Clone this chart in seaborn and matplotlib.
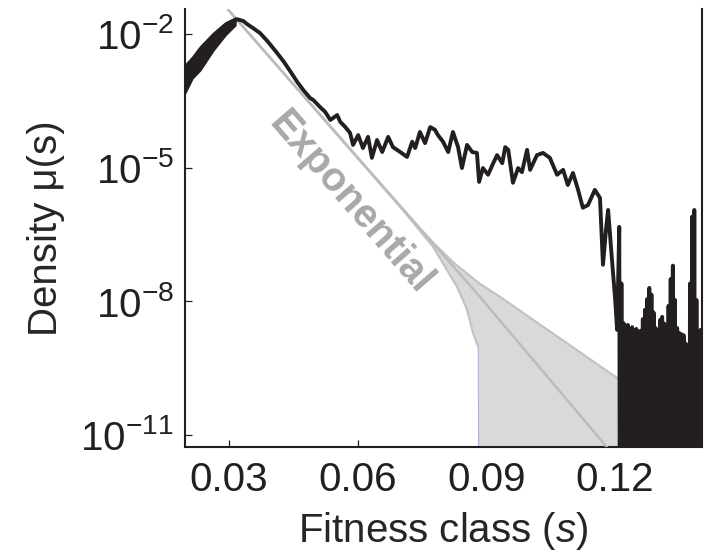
import numpy as np
import pandas as pd
import matplotlib
matplotlib.use("Agg")
import matplotlib.pyplot as plt
import seaborn as sns
from matplotlib.ticker import NullLocator, FixedLocator

# ---------------- data (fitness class s, log10 density) ----------------
# noisy leading band of the simulated density (upper / lower envelope)
band_s = [0.0197, 0.0214, 0.0232, 0.0263, 0.0291, 0.0314]
band_hi = [-2.70, -2.52, -2.29, -1.98, -1.75, -1.64]
band_lo = [-3.32, -2.99, -2.81, -2.36, -2.02, -1.80]

# main simulated density curve
curve_s = [0.0314, 0.0319, 0.0333, 0.0342, 0.0356, 0.0372, 0.0391, 0.0412,
           0.0428, 0.0442, 0.0459, 0.0473, 0.0489, 0.0496, 0.0512, 0.0524,
           0.0536, 0.0552, 0.0559, 0.0571, 0.0582, 0.0589, 0.0601, 0.0612,
           0.0624, 0.0633, 0.0645, 0.0657, 0.0671, 0.0682, 0.0699, 0.0715,
           0.0727, 0.0734, 0.0745, 0.0757, 0.0769, 0.0780, 0.0787, 0.0799,
           0.0811, 0.0822, 0.0834, 0.0843, 0.0855, 0.0867, 0.0878, 0.0883,
           0.0892, 0.0904, 0.0916, 0.0925, 0.0937, 0.0944, 0.0951, 0.0962,
           0.0974, 0.0983, 0.0995, 0.1002, 0.1018, 0.1032, 0.1048, 0.1065,
           0.1079, 0.1090, 0.1102, 0.1114, 0.1125, 0.1137, 0.1153, 0.1165,
           0.1172, 0.1179, 0.1184, 0.1193, 0.1200, 0.1205]
curve_log = [-1.70, -1.67, -1.71, -1.78, -1.87, -1.98, -2.18, -2.43,
             -2.63, -2.83, -3.08, -3.26, -3.44, -3.48, -3.64, -3.75,
             -3.93, -3.82, -3.97, -4.09, -4.22, -4.49, -4.27, -4.56,
             -4.31, -4.78, -4.38, -4.65, -4.31, -4.54, -4.65, -4.76,
             -4.42, -4.56, -4.20, -4.45, -4.09, -4.15, -4.27, -4.42,
             -4.65, -4.20, -4.54, -5.01, -4.49, -4.65, -4.67, -5.32,
             -5.01, -5.16, -4.90, -4.72, -4.90, -4.54, -4.60, -5.34,
             -5.01, -5.10, -4.60, -5.05, -4.72, -4.67, -4.78, -5.16,
             -5.05, -5.39, -5.12, -5.50, -5.90, -5.84, -5.50, -5.68,
             -7.18, -6.40, -5.95, -7.07, -7.90, -8.64]

# sparse tail: occupied bins (log10 density) every 0.0005, empty bins between
tail_log = [-6.33, -7.60, -8.49, -8.55, -8.53, -8.62, -8.58, -8.65, -8.62,
            -8.70, -8.66, -8.40, -8.19, -7.95, -7.70, -7.85, -8.25, -8.60,
            -8.87, -8.42, -8.35, -8.50, -8.64, -8.10, -7.50, -7.20, -7.97,
            -8.60, -8.71, -8.74, -8.76, -8.95, -9.09, -7.60, -6.10, -5.95,
            -7.97, -9.09, -8.64]
tail_start, tail_step = 0.1210, 0.0005
EMPTY = 1e-20  # empty bins (zero density)

# theory: exponential approximation
expo_s = [0.0298, 0.0885, 0.1181, 0.1200]
expo_log = [-1.46, -7.90, -11.27, -11.48]
# theory: upper and lower bounds of the shaded region
upper_s = [0.0298, 0.0699, 0.0776, 0.0827, 0.0885, 0.0932, 0.1002, 0.1118,
           0.1212, 0.1305, 0.1403]
upper_log = [-1.46, -5.88, -6.69, -7.16, -7.61, -7.90, -8.37, -9.14,
             -9.77, -10.21, -10.66]
lower_s = [0.0298, 0.0699, 0.0776, 0.0832, 0.0855, 0.0869, 0.0881, 0.0883]
lower_log = [-1.46, -5.88, -6.78, -7.68, -8.19, -8.71, -9.02, -14.0]

xticks = [0.03, 0.06, 0.09, 0.12]
xtick_labels = ["0.03", "0.06", "0.09", "0.12"]
yticks = [1e-2, 1e-5, 1e-8, 1e-11]

# ---------------- build frames ----------------
tail_s_occ = np.round(tail_start + tail_step * np.arange(len(tail_log)), 5)
tail_s = np.ravel(np.column_stack([tail_s_occ, tail_s_occ + tail_step / 2]))
tail_d = np.ravel(np.column_stack([10.0 ** np.array(tail_log),
                                   np.full(len(tail_log), EMPTY)]))
sim = pd.DataFrame({
    "s": np.concatenate([curve_s, tail_s]),
    "density": np.concatenate([10.0 ** np.array(curve_log), tail_d]),
})

# ---------------- style ----------------
sns.set_style("ticks")
plt.rcParams["font.family"] = ["Liberation Sans", "DejaVu Sans"]
plt.rcParams["mathtext.fontset"] = "custom"
plt.rcParams["mathtext.rm"] = "Liberation Sans"
plt.rcParams["mathtext.it"] = "Liberation Sans:italic"
plt.rcParams["mathtext.bf"] = "Liberation Sans:bold"

fig = plt.figure(figsize=(7.04, 5.56), dpi=100)
ax = fig.add_axes([185 / 704, 1 - 447 / 556, 517 / 704, 438 / 556])

BLACK = "#231f20"
FILL = "#d9d9dc"
GREY = "#c3c3c5"

# shaded theory region
poly_s = list(upper_s[1:]) + [0.1403] + list(lower_s[::-1][:-1])
poly_l = list(upper_log[1:]) + [-14.0] + list(lower_log[::-1][:-1])
ax.fill(poly_s, 10.0 ** np.array(poly_l), color=FILL, lw=0, zorder=1)
ax.plot(upper_s, 10.0 ** np.array(upper_log), color=GREY, lw=1.6, zorder=2)
ax.plot(lower_s[:-1], 10.0 ** np.array(lower_log[:-1]), color=GREY, lw=1.6,
        zorder=2)
ax.plot(lower_s[-2:], 10.0 ** np.array(lower_log[-2:]), color="#b4b4d2",
        lw=0.8, zorder=2)
ax.plot(expo_s, 10.0 ** np.array(expo_log), color="#bcbcbe", lw=1.8, zorder=3)

# simulated density
ax.fill_between(band_s, 10.0 ** np.array(band_lo), 10.0 ** np.array(band_hi),
                color=BLACK, lw=1.5, zorder=4)
sns.lineplot(data=sim, x="s", y="density", ax=ax, color=BLACK, lw=2.8,
             estimator=None, sort=False, zorder=5)

ax.set_yscale("log")
ax.set_xlim(0.0197, 0.1403)
ax.set_ylim(10 ** -11.27, 10 ** -1.44)
ax.yaxis.set_major_locator(FixedLocator(yticks))
ax.yaxis.set_minor_locator(NullLocator())
ax.set_xticks(xticks)
ax.set_xticklabels(xtick_labels)
ax.xaxis.set_minor_locator(NullLocator())

ax.text(0.0582, 10 ** -5.79, "Exponential", rotation=-49, rotation_mode="anchor",
        ha="center", va="center", fontsize=29, fontweight="bold",
        color="#a8a8a8", zorder=3)

for side in ["left", "right", "bottom"]:
    ax.spines[side].set_linewidth(1.5)
    ax.spines[side].set_color(BLACK)
ax.spines["top"].set_visible(False)
ax.tick_params(axis="both", direction="in", length=5, width=0.9,
               labelsize=29, pad=8, colors=BLACK)
ax.tick_params(axis="x", pad=10)

ax.set_xlabel("Fitness class ($s$)", fontsize=29, labelpad=8)
ax.set_ylabel("Density \u03bc(s)", fontsize=29, labelpad=11)

fig.savefig("out.png", dpi=100)
